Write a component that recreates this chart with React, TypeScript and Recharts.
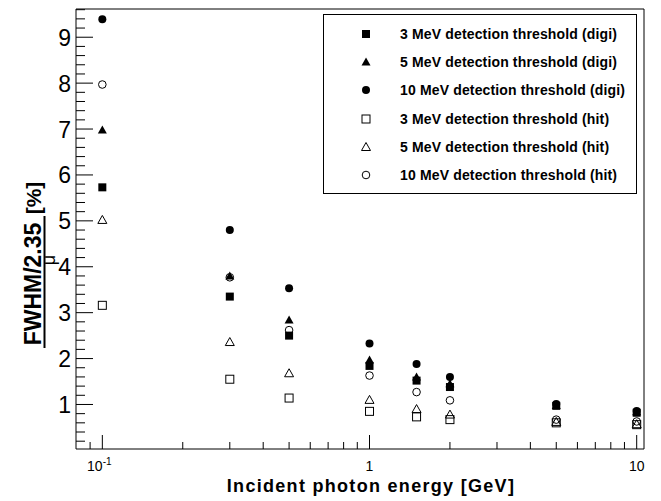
import React from 'react'
import { ScatterChart, Scatter, XAxis, YAxis, ReferenceArea, Legend } from 'recharts'

// incident photon energy [GeV]
const energies = [0.1, 0.3, 0.5, 1, 1.5, 2, 5, 10]

// FWHM/2.35/mu [%]
const digi3 = [5.73, 3.35, 2.5, 1.84, 1.52, 1.38, 0.97, 0.82]
const digi5 = [6.98, 3.8, 2.84, 1.97, 1.6, 1.45, 0.98, 0.84]
const digi10 = [9.39, 4.8, 3.53, 2.33, 1.88, 1.6, 1.01, 0.86]
const hit3 = [3.16, 1.55, 1.14, 0.85, 0.73, 0.67, 0.6, 0.56]
const hit5 = [5.02, 2.36, 1.68, 1.1, 0.9, 0.78, 0.62, 0.57]
const hit10 = [7.97, 3.77, 2.62, 1.63, 1.27, 1.09, 0.67, 0.63]

const xMajorTicks = [0.1, 1, 10]
const xMinorTicks = [0.09, 0.2, 0.3, 0.4, 0.5, 0.6, 0.7, 0.8, 0.9, 2, 3, 4, 5, 6, 7, 8, 9]
const yMajorTicks = [1, 2, 3, 4, 5, 6, 7, 8, 9]
const yMinorTicks = [0.2, 0.4, 0.6, 0.8, 1.2, 1.4, 1.6, 1.8, 2.2, 2.4, 2.6, 2.8, 3.2, 3.4, 3.6, 3.8,
  4.2, 4.4, 4.6, 4.8, 5.2, 5.4, 5.6, 5.8, 6.2, 6.4, 6.6, 6.8, 7.2, 7.4, 7.6, 7.8, 8.2, 8.4, 8.6, 8.8,
  9.2, 9.4, 9.6]

const X_DOMAIN = [0.0797, 10.65]
const Y_DOMAIN = [0.03, 9.615]
const FONT = '"Liberation Sans", Arial, Helvetica, sans-serif'

const toPoints = (vals: number[]) => vals.map((v, i) => ({ x: energies[i], y: v }))

type Marker = 'square' | 'triangle' | 'circle'

function MarkerShape({ cx, cy, kind, filled }: { cx: number; cy: number; kind: Marker; filled: boolean }) {
  const fill = filled ? '#000' : 'none'
  const sw = filled ? 0 : 1
  if (kind === 'square') {
    return <rect x={cx - 4} y={cy - 4} width={8} height={8} fill={fill} stroke="#000" strokeWidth={sw} />
  }
  if (kind === 'triangle') {
    return (
      <polygon
        points={`${cx},${cy - 4.5} ${cx - 4.5},${cy + 3.5} ${cx + 4.5},${cy + 3.5}`}
        fill={fill}
        stroke="#000"
        strokeWidth={sw}
      />
    )
  }
  return <circle cx={cx} cy={cy} r={filled ? 4 : 3.8} fill={fill} stroke="#000" strokeWidth={sw} />
}

const series = [
  { name: '3 MeV detection threshold (digi)', values: digi3, kind: 'square' as Marker, filled: true },
  { name: '5 MeV detection threshold (digi)', values: digi5, kind: 'triangle' as Marker, filled: true },
  { name: '10 MeV detection threshold (digi)', values: digi10, kind: 'circle' as Marker, filled: true },
  { name: '3 MeV detection threshold (hit)', values: hit3, kind: 'square' as Marker, filled: false },
  { name: '5 MeV detection threshold (hit)', values: hit5, kind: 'triangle' as Marker, filled: false },
  { name: '10 MeV detection threshold (hit)', values: hit10, kind: 'circle' as Marker, filled: false },
]

function XTick({ x, y, payload }: any) {
  const v = payload.value
  const major = xMajorTicks.includes(v)
  return (
    <g>
      <line x1={x} y1={y} x2={x} y2={y - (major ? 14 : 7)} stroke="#000" strokeWidth={1} />
      {major && (
        <text x={v === 0.1 ? x - 3 : x} y={y + 22} textAnchor="middle" fontSize={14} fontFamily={FONT} fill="#000">
          {v === 0.1 ? (
            <>
              <tspan>10</tspan>
              <tspan dy={-6} fontSize={10}>-1</tspan>
            </>
          ) : (
            String(v)
          )}
        </text>
      )}
    </g>
  )
}

function YTick({ x, y, payload }: any) {
  const v = payload.value
  const major = yMajorTicks.includes(v)
  return (
    <g>
      <line x1={x} y1={y} x2={x + (major ? 17 : 9)} y2={y} stroke="#000" strokeWidth={1} />
      {major && (
        <text x={x - 5} y={y + 8.5} textAnchor="end" fontSize={23} fontFamily={FONT} fill="#000">
          {v}
        </text>
      )}
    </g>
  )
}

function YTitle() {
  return (
    <g fontFamily={FONT} fill="#000" fontWeight="bold">
      <text transform="translate(33,276) rotate(-90)" textAnchor="middle" fontSize={23}>
        FWHM/2.35
      </text>
      <line x1={36.5} y1={208} x2={36.5} y2={340} stroke="#000" strokeWidth={2} />
      <text transform="translate(47,252) rotate(-90)" textAnchor="middle" fontSize={18} fontWeight="normal">
        μ
      </text>
      <text transform="translate(33,190) rotate(-90)" textAnchor="middle" fontSize={21}>
        [%]
      </text>
    </g>
  )
}

function XTitle() {
  return (
    <text
      x={363}
      y={484}
      textAnchor="middle"
      fontSize={18}
      letterSpacing={1.3}
      fontWeight="bold"
      fontFamily={FONT}
      fill="#000"
    >
      Incident photon energy [GeV]
    </text>
  )
}

function LegendBox() {
  return (
    <div
      style={{
        width: 312,
        height: 178,
        border: '1px solid #000',
        background: '#fff',
        fontFamily: FONT,
        fontWeight: 'bold',
        fontSize: 14,
        letterSpacing: 0.15,
        color: '#000',
        position: 'relative',
      }}
    >
      {series.map((s, i) => (
        <div key={s.name} style={{ position: 'absolute', left: 0, top: 19 + i * 28.2 - 10, height: 20, width: 312 }}>
          <svg width={20} height={20} style={{ position: 'absolute', left: 32, top: 0 }}>
            <MarkerShape cx={10} cy={10} kind={s.kind} filled={s.filled} />
          </svg>
          <span style={{ position: 'absolute', left: 76, top: 1, whiteSpace: 'nowrap', lineHeight: '18px' }}>{s.name}</span>
        </div>
      ))}
    </div>
  )
}

export default function App() {
  return (
    <ScatterChart width={653} height={493} margin={{ top: 1, right: 17, bottom: 0, left: 8 }}>
      <XAxis
        dataKey="x"
        type="number"
        scale="log"
        domain={X_DOMAIN}
        allowDataOverflow
        ticks={[...xMinorTicks, ...xMajorTicks].sort((a, b) => a - b)}
        interval={0}
        tick={<XTick />}
        tickSize={0}
        tickMargin={0}
        tickLine={false}
        axisLine={false}
        height={52}
        label={{ content: () => <XTitle /> }}
      />
      <YAxis
        dataKey="y"
        type="number"
        domain={Y_DOMAIN}
        allowDataOverflow
        ticks={[...yMinorTicks, ...yMajorTicks].sort((a, b) => a - b)}
        interval={0}
        tick={<YTick />}
        tickSize={0}
        tickMargin={0}
        tickLine={false}
        axisLine={false}
        width={60}
        label={{ content: () => <YTitle /> }}
      />
      <ReferenceArea
        x1={X_DOMAIN[0]}
        x2={X_DOMAIN[1]}
        y1={Y_DOMAIN[0]}
        y2={Y_DOMAIN[1]}
        fill="none"
        stroke="#000"
        strokeWidth={1}
        fillOpacity={0}
      />
      {series.map((s) => (
        <Scatter
          key={s.name}
          name={s.name}
          data={toPoints(s.values)}
          isAnimationActive={false}
          shape={(p: any) => <MarkerShape cx={p.cx} cy={p.cy} kind={s.kind} filled={s.filled} />}
        />
      ))}
      <Legend
        layout="vertical"
        align="center"
        verticalAlign="middle"
        content={() => <LegendBox />}
        wrapperStyle={{ left: 315, top: 6, width: 314, height: 180 }}
      />
    </ScatterChart>
  )
}
